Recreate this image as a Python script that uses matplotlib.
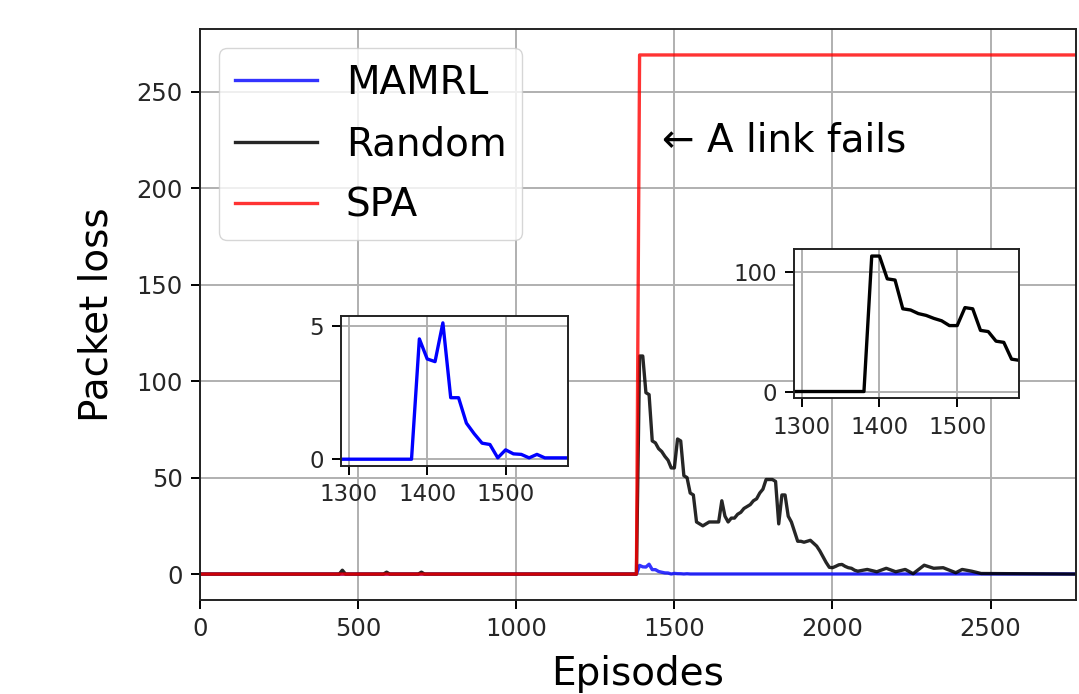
import matplotlib
matplotlib.use("Agg")
import matplotlib.pyplot as plt

# episodes / packet loss
spa_x = [0, 1380, 1390, 2770]
spa_y = [0, 0, 269, 269]

mamrl_x = [0, 1380, 1390, 1400, 1410, 1420, 1430, 1440, 1450, 1460, 1470,
           1480, 1490, 1500, 1510, 1520, 1530, 1540, 1550, 2770]
mamrl_y = [0, 0, 4.5, 3.75, 3.65, 5.1, 2.3, 2.3, 1.35, 0.95, 0.6,
           0.55, 0.05, 0.35, 0.2, 0.18, 0.05, 0.18, 0.05, 0.05]

random_x = [0, 440, 450, 460, 580, 590, 600, 690, 700, 710, 1380,
            1390, 1400, 1410, 1420, 1430, 1440, 1450, 1460, 1470, 1480,
            1490, 1500, 1510, 1520, 1530, 1540, 1550, 1560, 1570, 1580,
            1590, 1600, 1610, 1620, 1630, 1640, 1650, 1660, 1670, 1680,
            1690, 1700, 1710, 1720, 1730, 1740, 1750, 1760, 1770, 1780,
            1790, 1800, 1810, 1820, 1830, 1840, 1850, 1860, 1870, 1880,
            1890, 1900, 1910, 1920, 1930, 1940, 1950, 1960, 1970, 1980,
            1990, 2000, 2010, 2020, 2030, 2040, 2050, 2060, 2070, 2080,
            2110, 2140, 2170, 2200, 2230, 2255, 2290, 2320, 2350, 2390,
            2410, 2440, 2470, 2770]
random_y = [0, 0, 2, 0, 0, 1, 0, 0, 1, 0, 0,
            113, 113, 94, 93, 69, 68, 65, 63.5, 61, 59,
            55, 55, 70, 69, 51, 50, 42, 41, 27, 26,
            25, 26, 27, 27, 27, 27, 38, 30, 27, 29,
            29, 31, 32, 34, 35, 36, 38, 39, 42, 44,
            49, 49, 49, 48, 26, 41, 41, 30, 27, 22,
            17, 17, 16.5, 17, 17.5, 16, 14.5, 12, 9, 6,
            3.5, 3.3, 4, 4.8, 5, 4, 3.3, 3, 2, 1.5,
            2.4, 1.2, 3, 1.2, 2.4, 0.2, 4.6, 3, 3.3, 0.7,
            2.4, 1.5, 0.3, 0]

inset_xticks = [1300, 1400, 1500]


def style_axes(ax, labelsize):
    ax.grid(True, color="#b0b0b0", linewidth=1.4)
    ax.tick_params(length=6.5, width=1.4, pad=6, labelsize=labelsize,
                   labelcolor="#262626")
    for s in ax.spines.values():
        s.set_linewidth(1.4)
        s.set_color("#222222")


fig = plt.figure(figsize=(10.79, 6.94), dpi=100)
ax = fig.add_axes([0.1854, 0.1354, 0.8118, 0.8228])

ax.plot(mamrl_x, mamrl_y, color="blue", lw=2.4, alpha=0.8, label="MAMRL")
ax.plot(random_x, random_y, color="black", lw=2.4, alpha=0.85, label="Random")
ax.plot(spa_x, spa_y, color="red", lw=2.4, alpha=0.8, label="SPA")
ax.set_xlim(0, 2770)
style_axes(ax, 17.5)
ax.set_xlabel("Episodes", fontsize=28, labelpad=10)
ax.set_ylabel("Packet loss", fontsize=28, labelpad=15)
ax.legend(loc="upper left", fontsize=28, labelspacing=0.6,
          handlelength=2.1, handletextpad=0.75)
ax.text(1462, 219, "\u2190 A link fails", fontsize=28, ha="left", va="baseline")

# inset: MAMRL around the link failure
ax1 = fig.add_axes([0.316, 0.3285, 0.2107, 0.2161])
ax1.plot(mamrl_x, mamrl_y, color="blue", lw=2.4)
ax1.set_xlim(1290, 1580)
ax1.set_xticks(inset_xticks)
ax1.set_yticks([0, 5])
style_axes(ax1, 16.5)

# inset: Random around the link failure
ax2 = fig.add_axes([0.7359, 0.4261, 0.2088, 0.2147])
ax2.plot(random_x, random_y, color="black", lw=2.4)
ax2.set_xlim(1290, 1580)
ax2.set_xticks(inset_xticks)
ax2.set_yticks([0, 100])
style_axes(ax2, 16.5)

fig.savefig("out.png", dpi=100)
